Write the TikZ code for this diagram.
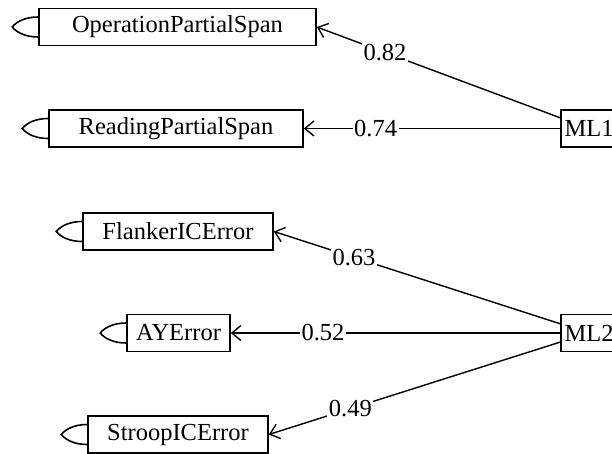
\documentclass[tikz,border=0pt]{standalone}
\usepackage{fontspec}
\setmainfont{Liberation Serif}
\usetikzlibrary{calc, arrows.meta}

\begin{document}
\begin{tikzpicture}[x=1pt, y=-1pt,
    var/.style={draw, line width=1.6pt, minimum height=37pt, inner sep=0pt,
        font=\fontsize{24.5}{28}\selectfont},
    load/.style={line width=1.4pt, -{Straight Barb[length=9pt,width=15pt]}},
    resid/.style={line width=1.6pt},
    wt/.style={fill=white, inner sep=1.5pt, pos=0.72, font=\fontsize{24.5}{28}\selectfont}]
    \useasboundingbox (0,0) rectangle (612,454);

    % Draw the indicators
    \node[var, minimum width=277pt] (ops) at (177.5,27) {OperationPartialSpan};
    \node[var, minimum width=254pt] (rps) at (176,128.5) {ReadingPartialSpan};
    \node[var, minimum width=190pt] (fla) at (178,231.5) {FlankerICError};
    \node[var, minimum width=103pt] (aye) at (178.5,333) {AYError};
    \node[var, minimum width=180pt] (str) at (178,434.5) {StroopICError};

    % Draw the factors
    \node[var, minimum width=56pt] (ml1) at (589,128.5) {ML1};
    \node[var, minimum width=56pt] (ml2) at (589,333) {ML2};

    % Add the residual loops
    \foreach \v in {ops, rps, fla, aye, str}
        \draw[resid] ($(\v.west)+(0,-10)$) .. controls +(-12,0) and +(5,-6) .. ($(\v.west)+(-26,0)$)
            .. controls +(5,6) and +(-12,0) .. ($(\v.west)+(0,10)$);

    % Draw the loadings
    \draw[load] (ml1) -- node[wt] {0.82} (ops.east);
    \draw[load] (ml1) -- node[wt] {0.74} (rps.east);
    \draw[load] (ml2) -- node[wt] {0.63} (fla.east);
    \draw[load] (ml2) -- node[wt] {0.52} (aye.east);
    \draw[load] (ml2) -- node[wt] {0.49} (str.east);

\end{tikzpicture}
\end{document}
